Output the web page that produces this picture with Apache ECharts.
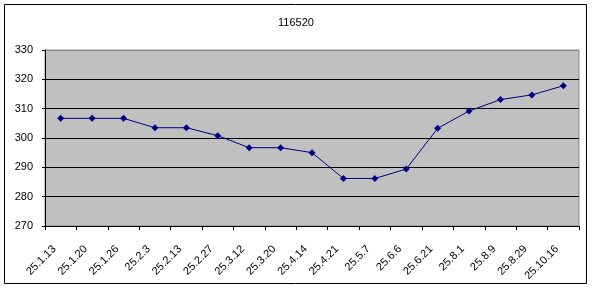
<!DOCTYPE html>
<html>
<head>
<meta charset="utf-8">
<script src="https://cdn.jsdelivr.net/npm/echarts@6/dist/echarts.min.js"></script>
<style>
html,body{margin:0;padding:0;background:#fff;}
#c{width:592px;height:288px;}
</style>
</head>
<body>
<div id="c"></div>
<script>
var categories = ['25.1.13','25.1.20','25.1.26','25.2.3','25.2.13','25.2.27','25.3.12','25.3.20','25.4.14','25.4.21','25.5.7','25.6.6','25.6.21','25.8.1','25.8.9','25.8.29','25.10.16'];
var values = [306.7,306.7,306.7,303.5,303.5,300.8,296.7,296.7,295.0,286.2,286.2,289.4,303.3,309.2,313.1,314.7,317.8];
var yTicks = [270,280,290,300,310,320,330];
var titleText = '116520';

var chart = echarts.init(document.getElementById('c'), null, {renderer:'canvas'});
chart.setOption({
  animation:false,
  backgroundColor:'#ffffff',
  title:{text:titleText,left:'center',top:12,textStyle:{fontFamily:'Liberation Sans',fontSize:11,fontWeight:'normal',color:'#000'}},
  graphic:[{type:'rect',shape:{x:4.5,y:4.5,width:582,height:279},style:{fill:'none',stroke:'#000',lineWidth:1},z:-1}],
  grid:{left:45,top:50,width:534,height:176,backgroundColor:'#c0c0c0',show:true,borderWidth:1,borderColor:'#8a8a8a'},
  xAxis:{type:'category',data:categories,boundaryGap:true,
    axisLine:{lineStyle:{color:'#000',width:1}},
    axisTick:{show:true,alignWithLabel:false,length:4,lineStyle:{color:'#000'}},
    axisLabel:{rotate:45,interval:0,margin:15,padding:[0,9,0,0],fontFamily:'Liberation Sans',fontSize:11,color:'#000'},
    splitLine:{show:false}},
  yAxis:{type:'value',min:270,max:330,interval:10,
    axisLine:{show:true,lineStyle:{color:'#000',width:1}},
    axisTick:{show:true,length:3,lineStyle:{color:'#000'}},
    axisLabel:{margin:12,fontFamily:'Liberation Sans',fontSize:11,color:'#000',
      formatter:function(v){return yTicks.indexOf(v)>=0?String(v):'';}},
    splitLine:{show:true,lineStyle:{color:['#000','#000','#000','#000','#000','#000','#8a8a8a'],width:1}}},
  series:[{type:'line',data:values,symbol:'diamond',symbolSize:7,
    lineStyle:{color:'#000080',width:1},itemStyle:{color:'#000080'}}]
});
</script>
</body>
</html>
